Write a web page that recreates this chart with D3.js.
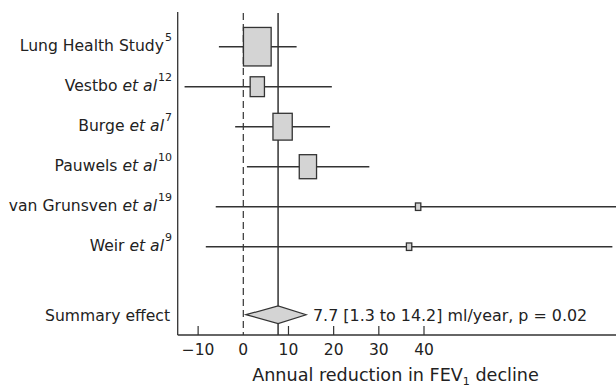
<!DOCTYPE html>
<html><head><meta charset="utf-8">
<script src="https://cdn.jsdelivr.net/npm/d3@7"></script>
<style>
html,body{margin:0;padding:0;background:#fff;}
svg{display:block;}
text{font-family:"DejaVu Sans",sans-serif;fill:#222;}
</style></head>
<body>
<script>
const studies = ["Lung Health Study", "Vestbo", "Burge", "Pauwels", "van Grunsven", "Weir"];
const hasEtAl = [false, true, true, true, true, true];
const refs = ["5", "12", "7", "10", "19", "9"];
const estimate = [3.1, 3.1, 8.7, 14.3, 38.7, 36.7];
const ciLow = [-5.4, -13.0, -1.8, 0.8, -6.1, -8.3];
const ciHigh = [11.8, 19.6, 19.2, 27.9, 90, 81.7];
const weight = [45.2, 12.0, 21.9, 17.6, 1.7, 1.7];
const summaryLabel = "Summary effect";
const summaryEst = 7.7, summaryLow = 0.6, summaryHigh = 13.9;
const summaryText = "7.7 [1.3 to 14.2] ml/year, p = 0.02";
const xTicks = [-10, 0, 10, 20, 30, 40];
const xTitle = "Annual reduction in FEV";

const W = 616, H = 387;
const svg = d3.select("body").append("svg").attr("width", W).attr("height", H);
const axisY = 335, yAxisX = 177.7, topY = 12;
const x = d3.scaleLinear().domain([0, 40]).range([243.3, 424]);
const y = d3.scaleLinear().domain([0, 1]).range([46.7, 86.7]);
const summaryRow = 6.7;
const boxW = d3.scaleSqrt().domain([0, 45.2]).range([0, 27.7]);
const aspect = 1.39;
const ink = "#333";

svg.append("line").attr("x1", yAxisX).attr("x2", yAxisX).attr("y1", topY).attr("y2", axisY)
  .attr("stroke", ink).attr("stroke-width", 1.3);
svg.append("line").attr("x1", yAxisX).attr("x2", W).attr("y1", axisY).attr("y2", axisY)
  .attr("stroke", ink).attr("stroke-width", 1.3);
const g = svg.append("g");
g.selectAll("line.tick").data(xTicks.filter(d => d !== 0)).join("line")
  .attr("x1", d => x(d)).attr("x2", d => x(d)).attr("y1", axisY).attr("y2", axisY - 9)
  .attr("stroke", ink).attr("stroke-width", 1.2);
g.selectAll("text.tl").data(xTicks).join("text")
  .attr("x", d => x(d)).attr("y", 355).attr("text-anchor", "middle")
  .style("font-size", "15.5px")
  .text(d => d < 0 ? "\u2212" + Math.abs(d) : d);

svg.append("line").attr("x1", x(0)).attr("x2", x(0)).attr("y1", topY + 1).attr("y2", axisY)
  .attr("stroke", ink).attr("stroke-width", 1.2).attr("stroke-dasharray", "7,4");
svg.append("line").attr("x1", x(summaryEst)).attr("x2", x(summaryEst)).attr("y1", topY + 1).attr("y2", axisY)
  .attr("stroke", ink).attr("stroke-width", 1.5);

const rows = studies.map((s, i) => ({s, i, e: estimate[i], lo: ciLow[i], hi: ciHigh[i], w: weight[i], ref: refs[i], etal: hasEtAl[i]}));
const rg = svg.append("g").selectAll("g").data(rows).join("g");
rg.append("line").attr("x1", d => x(d.lo)).attr("x2", d => x(d.hi))
  .attr("y1", d => y(d.i)).attr("y2", d => y(d.i)).attr("stroke", ink).attr("stroke-width", 1.5);
rg.append("rect")
  .attr("x", d => x(d.e) - boxW(d.w) / 2).attr("width", d => boxW(d.w))
  .attr("y", d => y(d.i) - boxW(d.w) * aspect / 2).attr("height", d => boxW(d.w) * aspect)
  .attr("fill", "#d4d4d4").attr("stroke", ink).attr("stroke-width", 1.3);
const lab = rg.append("text").attr("x", 172).attr("y", d => y(d.i) + 4.5).attr("text-anchor", "end")
  .style("font-size", "15.6px");
lab.append("tspan").text(d => d.etal ? d.s + " " : d.s);
lab.append("tspan").style("font-style", "italic").text(d => d.etal ? "et al" : "");
lab.append("tspan").attr("dy", -10).attr("dx", 1).style("font-size", "11px").text(d => d.ref);

const sy = y(summaryRow);
svg.append("path")
  .attr("d", `M${x(summaryLow)},${sy} L${x(summaryEst)},${sy - 8.8} L${x(summaryHigh)},${sy} L${x(summaryEst)},${sy + 8.8} Z`)
  .attr("fill", "#d4d4d4").attr("stroke", ink).attr("stroke-width", 1.2);
svg.append("text").attr("x", 170).attr("y", sy + 6).attr("text-anchor", "end")
  .style("font-size", "15.6px").text(summaryLabel);
svg.append("text").attr("x", 313).attr("y", sy + 6).style("font-size", "15.9px").text(summaryText);

const t = svg.append("text").attr("x", 395.5).attr("y", 380.5).attr("text-anchor", "middle").style("font-size", "17.6px");
t.append("tspan").text(xTitle);
t.append("tspan").attr("dy", 4).style("font-size", "11px").text("1");
t.append("tspan").attr("dy", -4).text(" decline");
</script>
</body></html>
